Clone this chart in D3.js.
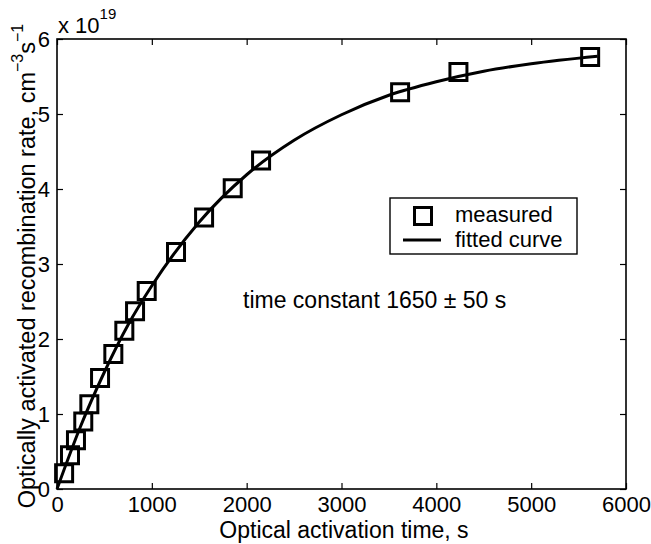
<!DOCTYPE html>
<html>
<head>
<meta charset="utf-8">
<script src="https://cdn.jsdelivr.net/npm/d3@7"></script>
<style>
  body { margin: 0; background: #fff; }
  text { font-family: "Liberation Sans", Arial, Helvetica, sans-serif; fill: #000; }
</style>
</head>
<body>
<div class="chart"></div>
<script>
// measured points (time in s, rate in units of 1e19 cm^-3 s^-1)
var timeS = [75, 137, 200, 277, 341, 454, 594, 710, 823, 946, 1255, 1551, 1853, 2152, 3618, 4233, 5622];
var rate = [0.21, 0.45, 0.65, 0.90, 1.13, 1.48, 1.80, 2.11, 2.37, 2.64, 3.16, 3.62, 4.01, 4.38, 5.29, 5.56, 5.76];

// fitted curve
var fitT = [0, 250, 500, 750, 1000, 1500, 2000, 2500, 3000, 3500, 4000, 4500, 5000, 5700];
var fitR = [0, 0.84, 1.56, 2.19, 2.71, 3.56, 4.19, 4.65, 4.99, 5.25, 5.43, 5.57, 5.67, 5.77];

var xTicks = [0, 1000, 2000, 3000, 4000, 5000, 6000];
var yTicks = [0, 1, 2, 3, 4, 5, 6];

// set the dimensions and margins of the graph
var margin = {top: 39, right: 25, bottom: 55, left: 57},
    width = 626 - margin.left,
    height = 489 - margin.top;

var svg = d3.select(".chart")
  .append("svg")
    .attr("width", 651)
    .attr("height", 544)
  .append("g")
    .attr("transform", "translate(" + margin.left + "," + margin.top + ")");

var x = d3.scaleLinear().domain([0, 6000]).range([0, width]);
var y = d3.scaleLinear().domain([0, 6]).range([height, 0]);

// axes, ticks pointing inward on all four sides (matlab box)
function styleAxis(g) {
  g.select(".domain").remove();
  g.selectAll(".tick line").attr("stroke", "#000").attr("stroke-width", 1.2);
  g.selectAll(".tick text").style("font-size", "22px").attr("fill", "#000");
}

svg.append("g")
  .attr("transform", "translate(0," + height + ")")
  .call(d3.axisBottom(x).tickValues(xTicks).tickFormat(d3.format("d")).tickSizeInner(-6).tickPadding(7))
  .call(styleAxis)
  .selectAll(".tick text").attr("dy", "0.71em").attr("y", 7);

svg.append("g")
  .call(d3.axisTop(x).tickValues(xTicks).tickFormat("").tickSizeInner(-6))
  .call(styleAxis);

svg.append("g")
  .call(d3.axisLeft(y).tickValues(yTicks).tickFormat(d3.format("d")).tickSizeInner(-6).tickPadding(8))
  .call(styleAxis)
  .selectAll(".tick text").attr("x", -7);

svg.append("g")
  .attr("transform", "translate(" + width + ",0)")
  .call(d3.axisRight(y).tickValues(yTicks).tickFormat("").tickSizeInner(-6))
  .call(styleAxis);

// box
svg.append("rect")
  .attr("width", width)
  .attr("height", height)
  .attr("fill", "none")
  .attr("stroke", "#000")
  .attr("stroke-width", 1.6);

// fitted curve
var fitData = fitT.map(function(t, i) { return [t, fitR[i]]; });
var line = d3.line()
  .x(function(d) { return x(d[0]); })
  .y(function(d) { return y(d[1]); })
  .curve(d3.curveMonotoneX);

svg.append("path")
  .datum(fitData)
  .attr("d", line)
  .attr("fill", "none")
  .attr("stroke", "#000")
  .attr("stroke-width", 3);

// measured squares
var sq = 17;
svg.append("g")
  .selectAll("rect")
  .data(timeS.map(function(t, i) { return [t, rate[i]]; }))
  .enter().append("rect")
    .attr("x", function(d) { return x(d[0]) - sq / 2; })
    .attr("y", function(d) { return y(d[1]) - sq / 2; })
    .attr("width", sq)
    .attr("height", sq)
    .attr("fill", "none")
    .attr("stroke", "#000")
    .attr("stroke-width", 3);

// exponent label
var expo = svg.append("text")
  .attr("x", 1)
  .attr("y", -6)
  .style("font-size", "22px");
expo.append("tspan").text("x 10");
expo.append("tspan").attr("dy", -14).style("font-size", "15px").text("19");

// legend
var lg = svg.append("g").attr("transform", "translate(" + (390 - margin.left) + "," + (198 - margin.top) + ")");
lg.append("rect")
  .attr("width", 187).attr("height", 56)
  .attr("fill", "#fff").attr("stroke", "#000").attr("stroke-width", 1.4);
lg.append("rect")
  .attr("x", 33 - sq / 2).attr("y", 18 - sq / 2)
  .attr("width", sq).attr("height", sq)
  .attr("fill", "none").attr("stroke", "#000").attr("stroke-width", 3);
lg.append("line")
  .attr("x1", 13).attr("x2", 51).attr("y1", 42).attr("y2", 42)
  .attr("stroke", "#000").attr("stroke-width", 3);
lg.append("text").attr("x", 65).attr("y", 24).style("font-size", "22px").text("measured");
lg.append("text").attr("x", 65).attr("y", 49).style("font-size", "22px").text("fitted curve");

// annotation
svg.append("text")
  .attr("x", 243 - margin.left)
  .attr("y", 308 - margin.top)
  .style("font-size", "23px")
  .text("time constant 1650 \u00b1 50 s");

// axis labels
svg.append("text")
  .attr("x", (344 - margin.left))
  .attr("y", 538 - margin.top)
  .attr("text-anchor", "middle")
  .style("font-size", "23px")
  .text("Optical activation time, s");

var yl = svg.append("text")
  .attr("transform", "translate(" + (35 - margin.left) + "," + (height / 2 + 2) + ") rotate(-90)")
  .attr("text-anchor", "middle")
  .style("font-size", "23.5px");
yl.append("tspan").text("Optically activated recombination rate, cm");
yl.append("tspan").attr("dy", -12).style("font-size", "16px").text("\u22123");
yl.append("tspan").attr("dy", 12).text("s");
yl.append("tspan").attr("dy", -12).style("font-size", "16px").text("\u22121");
</script>
</body>
</html>
